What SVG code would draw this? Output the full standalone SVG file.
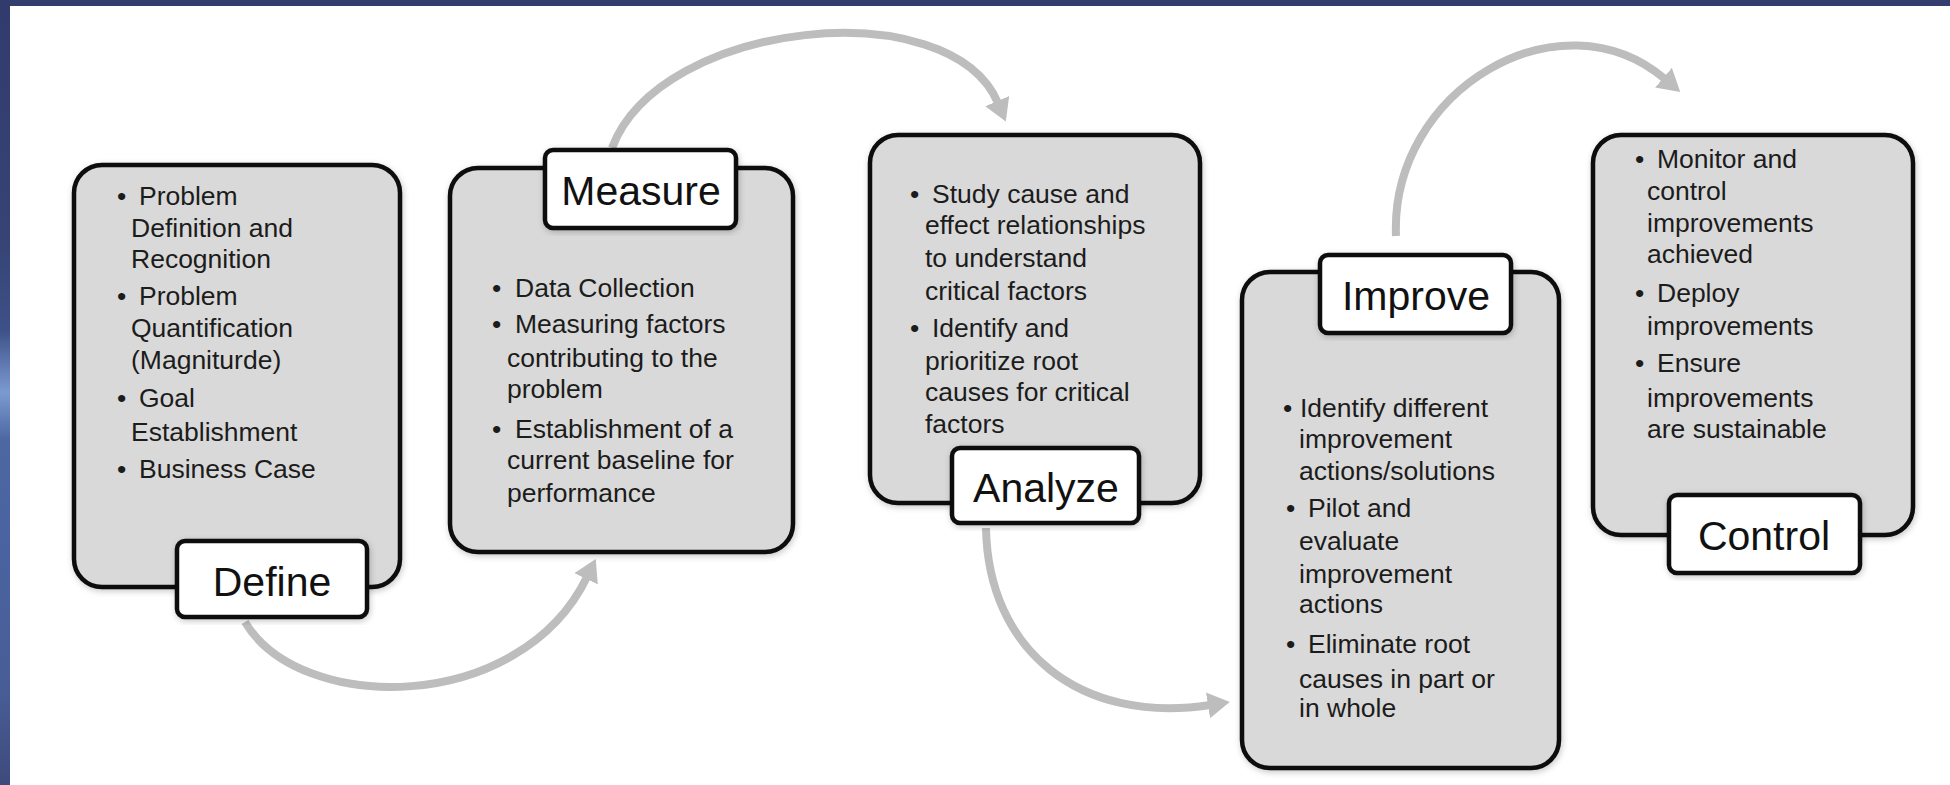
<svg xmlns="http://www.w3.org/2000/svg" width="1950" height="785" viewBox="0 0 1950 785">
  <defs>
    <style>
      .box { fill: #d9d9d9; stroke: #0d0d0d; stroke-width: 4.5; }
      .lbl { fill: #ffffff; stroke: #0d0d0d; stroke-width: 4.5; }
      .body { font-family: "Liberation Sans", Arial, sans-serif; font-size: 26.5px; fill: #1c1c1c; }
      .title { font-family: "Liberation Sans", Arial, sans-serif; font-size: 41px; fill: #111111; text-anchor: middle; }
      .arrow { fill: none; stroke: #bdbdbd; stroke-width: 8; stroke-linecap: butt; marker-end: url(#head); }
    </style>
    <marker id="head" markerUnits="userSpaceOnUse" markerWidth="30" markerHeight="30" refX="2" refY="13" orient="auto">
      <path d="M0,0 L22,13 L0,26 Z" fill="#bdbdbd"/>
    </marker>
    <filter id="sh" x="-10%" y="-10%" width="120%" height="120%">
      <feDropShadow dx="1" dy="2" stdDeviation="3" flood-color="#000000" flood-opacity="0.22"/>
    </filter>
    <linearGradient id="strip" x1="0" y1="0" x2="0" y2="1">
      <stop offset="0" stop-color="#323c6c"/>
      <stop offset="0.3" stop-color="#364373"/>
      <stop offset="0.42" stop-color="#3d5088"/>
      <stop offset="0.5" stop-color="#7b9bd0"/>
      <stop offset="0.56" stop-color="#4d67a3"/>
      <stop offset="0.7" stop-color="#4a63a0"/>
      <stop offset="0.88" stop-color="#485d96"/>
      <stop offset="1" stop-color="#3e4a7c"/>
    </linearGradient>
  </defs>

  <rect x="0" y="0" width="1950" height="785" fill="#ffffff"/>
  <rect x="0" y="0" width="1950" height="6" fill="#333e6e"/>
  <rect x="0" y="0" width="10" height="785" fill="url(#strip)"/>

  <g id="connectors">
    <path class="arrow" d="M245,622 C300,715 520,715 587,577"/>
    <path class="arrow" d="M612,148 C660,20 950,-10 998,103"/>
    <path class="arrow" d="M986,528 C988,650 1080,725 1210,705"/>
    <path class="arrow" d="M1396,236 C1390,90 1560,-10 1665,79"/>
  </g>

  <g id="define">
    <rect class="box" filter="url(#sh)" x="74" y="165" width="326" height="422" rx="28"/>
    <text class="body"><tspan x="117" y="205">•</tspan><tspan x="139">Problem</tspan></text>
    <text class="body" x="131" y="237">Definition and</text>
    <text class="body" x="131" y="268">Recognition</text>
    <text class="body"><tspan x="117" y="305">•</tspan><tspan x="139">Problem</tspan></text>
    <text class="body" x="131" y="337">Quantification</text>
    <text class="body" x="131" y="369">(Magniturde)</text>
    <text class="body"><tspan x="117" y="407">•</tspan><tspan x="139">Goal</tspan></text>
    <text class="body" x="131" y="441">Establishment</text>
    <text class="body"><tspan x="117" y="478">•</tspan><tspan x="139">Business Case</tspan></text>
    <rect class="lbl" filter="url(#sh)" x="177" y="541" width="190" height="76" rx="8"/>
    <text class="title" x="272" y="596">Define</text>
  </g>

  <g id="measure">
    <rect class="box" filter="url(#sh)" x="450" y="168" width="343" height="384" rx="28"/>
    <text class="body"><tspan x="492" y="297">•</tspan><tspan x="515">Data Collection</tspan></text>
    <text class="body"><tspan x="492" y="333">•</tspan><tspan x="515">Measuring factors</tspan></text>
    <text class="body" x="507" y="367">contributing to the</text>
    <text class="body" x="507" y="398">problem</text>
    <text class="body"><tspan x="492" y="438">•</tspan><tspan x="515">Establishment of a</tspan></text>
    <text class="body" x="507" y="469">current baseline for</text>
    <text class="body" x="507" y="502">performance</text>
    <rect class="lbl" filter="url(#sh)" x="545" y="150" width="191" height="78" rx="8"/>
    <text class="title" x="641" y="205">Measure</text>
  </g>

  <g id="analyze">
    <rect class="box" filter="url(#sh)" x="870" y="135" width="330" height="368" rx="28"/>
    <text class="body"><tspan x="910" y="203">•</tspan><tspan x="932">Study cause and</tspan></text>
    <text class="body" x="925" y="234">effect relationships</text>
    <text class="body" x="925" y="267">to understand</text>
    <text class="body" x="925" y="300">critical factors</text>
    <text class="body"><tspan x="910" y="337">•</tspan><tspan x="932">Identify and</tspan></text>
    <text class="body" x="925" y="370">prioritize root</text>
    <text class="body" x="925" y="401">causes for critical</text>
    <text class="body" x="925" y="433">factors</text>
    <rect class="lbl" filter="url(#sh)" x="952" y="448" width="187" height="75" rx="8"/>
    <text class="title" x="1046" y="502">Analyze</text>
  </g>

  <g id="improve">
    <rect class="box" filter="url(#sh)" x="1242" y="272" width="317" height="496" rx="28"/>
    <text class="body"><tspan x="1283" y="417">•</tspan><tspan x="1300">Identify different</tspan></text>
    <text class="body" x="1299" y="448">improvement</text>
    <text class="body" x="1299" y="480">actions/solutions</text>
    <text class="body"><tspan x="1286" y="517">•</tspan><tspan x="1308">Pilot and</tspan></text>
    <text class="body" x="1299" y="550">evaluate</text>
    <text class="body" x="1299" y="583">improvement</text>
    <text class="body" x="1299" y="613">actions</text>
    <text class="body"><tspan x="1286" y="653">•</tspan><tspan x="1308">Eliminate root</tspan></text>
    <text class="body" x="1299" y="688">causes in part or</text>
    <text class="body" x="1299" y="717">in whole</text>
    <rect class="lbl" filter="url(#sh)" x="1320" y="255" width="191" height="78" rx="8"/>
    <text class="title" x="1416" y="310">Improve</text>
  </g>

  <g id="control">
    <rect class="box" filter="url(#sh)" x="1593" y="135" width="320" height="400" rx="28"/>
    <text class="body"><tspan x="1635" y="168">•</tspan><tspan x="1657">Monitor and</tspan></text>
    <text class="body" x="1647" y="200">control</text>
    <text class="body" x="1647" y="232">improvements</text>
    <text class="body" x="1647" y="263">achieved</text>
    <text class="body"><tspan x="1635" y="302">•</tspan><tspan x="1657">Deploy</tspan></text>
    <text class="body" x="1647" y="335">improvements</text>
    <text class="body"><tspan x="1635" y="372">•</tspan><tspan x="1657">Ensure</tspan></text>
    <text class="body" x="1647" y="407">improvements</text>
    <text class="body" x="1647" y="438">are sustainable</text>
    <rect class="lbl" filter="url(#sh)" x="1669" y="495" width="191" height="78" rx="8"/>
    <text class="title" x="1764" y="550">Control</text>
  </g>
</svg>
